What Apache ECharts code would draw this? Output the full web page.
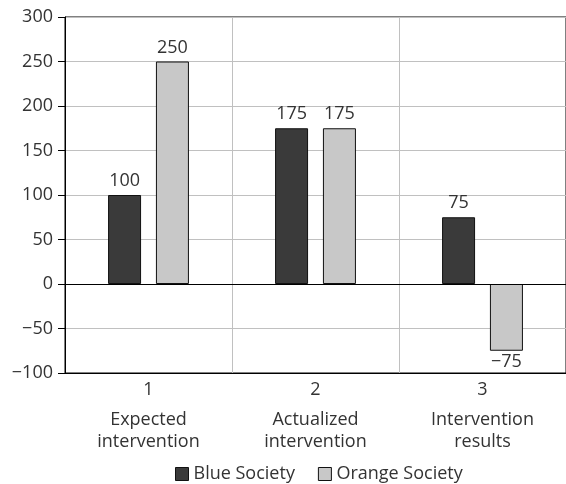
<!DOCTYPE html>
<html>
<head>
<meta charset="utf-8">
<script src="https://cdn.jsdelivr.net/npm/echarts@6/dist/echarts.min.js"></script>
<style>html,body{margin:0;padding:0;background:#fff;}#c{width:566px;height:484px;}</style>
</head>
<body>
<div id="c"></div>
<script>
var categories = ['1', '2', '3'];
var categoryNames = ['Expected\nintervention', 'Actualized\nintervention', 'Intervention\nresults'];
var seriesNames = ['Blue Society', 'Orange Society'];
var blueValues = [100, 175, 75];
var orangeValues = [250, 175, -75];
var yTicks = { min: -100, max: 300, interval: 50 };

var FONT = '"Open Sans", "Noto Sans", sans-serif';
var TXT = '#333';
var chart = echarts.init(document.getElementById('c'), null, { renderer: 'canvas' });

function fmt(v) { return v < 0 ? '\u2212' + Math.abs(v) : String(v); }
function mk(vals) {
  return vals.map(function (v) {
    return v < 0 ? { value: v, label: { position: 'bottom', distance: 2 } } : v;
  });
}

chart.setOption({
  animation: false,
  backgroundColor: '#fff',
  grid: { left: 65, top: 17, right: -6, bottom: 111, show: true, borderColor: '#000', borderWidth: 1 },
  legend: {
    data: seriesNames,
    left: 170, top: 460,
    icon: 'rect', itemWidth: 13, itemHeight: 13, itemGap: 23,
    textStyle: { fontFamily: FONT, fontSize: 18, color: TXT },
    itemStyle: { borderColor: '#111', borderWidth: 1 }
  },
  xAxis: {
    type: 'category',
    data: categories,
    axisLine: { onZero: false, lineStyle: { color: '#000', width: 1 } },
    axisTick: { show: false },
    splitLine: { show: true, lineStyle: { color: '#c0c0c0', width: 1 } },
    axisLabel: {
      margin: -2,
      formatter: function (v, i) { return '{n|' + v + '}\n{t|' + categoryNames[i].split('\n').join('}\n{t|') + '}'; },
      rich: {
        n: { fontFamily: FONT, fontSize: 18, color: TXT, lineHeight: 38 },
        t: { fontFamily: FONT, fontSize: 18, color: TXT, lineHeight: 22 }
      }
    }
  },
  yAxis: {
    type: 'value',
    min: yTicks.min, max: yTicks.max, interval: yTicks.interval,
    axisLine: { show: true, lineStyle: { color: '#000', width: 1 } },
    axisTick: { show: true, length: 7, lineStyle: { color: '#000' } },
    splitLine: { show: true, lineStyle: { color: '#c0c0c0', width: 1 } },
    axisLabel: { margin: 12, fontFamily: FONT, fontSize: 18, color: TXT, formatter: fmt }
  },
  series: [
    {
      name: seriesNames[0], type: 'bar', data: mk(blueValues),
      barWidth: 33, barGap: '45%',
      itemStyle: { color: '#3a3a3a', borderColor: '#111', borderWidth: 1 },
      label: { show: true, position: 'top', distance: 5, fontFamily: FONT, fontSize: 18, color: TXT,
        formatter: function (p) { return fmt(p.value); } },
      markLine: {
        silent: true, symbol: 'none', label: { show: false },
        lineStyle: { color: '#000', width: 1, type: 'solid' },
        data: [{ yAxis: 0 }]
      }
    },
    {
      name: seriesNames[1], type: 'bar', data: mk(orangeValues),
      barWidth: 33, barGap: '45%',
      itemStyle: { color: '#c8c8c8', borderColor: '#111', borderWidth: 1 },
      label: { show: true, position: 'top', distance: 5, fontFamily: FONT, fontSize: 18, color: TXT,
        formatter: function (p) { return fmt(p.value); } }
    }
  ]
});
</script>
</body>
</html>
